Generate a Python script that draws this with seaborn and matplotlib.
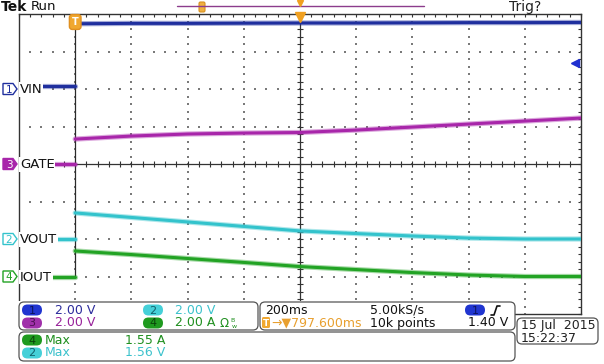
import numpy as np
import pandas as pd
import matplotlib.pyplot as plt
import matplotlib.patches as mpatches
import matplotlib.transforms as mtransforms
import seaborn as sns

sns.set_style("white")
plt.rcParams['font.family'] = ['DejaVu Sans']

W, H = 604, 364

# Timebase: 200 ms/div, trigger one division from the left edge
ms_per_div = 200
t_left, t_right = -200, 1800
t_post = [0, 200, 400, 600, 800, 1000, 1200, 1400, 1600, 1800]

# Channels: per-div scale and ground offset (div)
ch_names = ['VIN', 'VOUT', 'GATE', 'IOUT']
ch_numbers = ['1', '2', '3', '4']
ch_scale = [2.0, 2.0, 2.0, 2.0]
ch_offset = [2.0, -2.0, 0.0, -3.0]
ch_colors = ['#1f2f9e', '#33c3cc', '#a826aa', '#22a324']

# Levels (V, or A for IOUT)
vin_pre = 0.16
vin_post = [3.48, 3.50, 3.50, 3.51, 3.52, 3.52, 3.53, 3.54, 3.54, 3.55]
vout_pre = 0.0
vout_post = [1.39, 1.15, 0.91, 0.67, 0.43, 0.29, 0.16, 0.05, 0.0, 0.0]
gate_pre = 0.02
gate_post = [1.33, 1.49, 1.60, 1.65, 1.68, 1.81, 1.97, 2.13, 2.29, 2.45]
iout_pre = 0.0
iout_post = [1.36, 1.17, 0.96, 0.75, 0.53, 0.37, 0.21, 0.08, 0.0, 0.0]

trig_level = 1.40

pre_vals = [vin_pre, vout_pre, gate_pre, iout_pre]
post_vals = [vin_post, vout_post, gate_post, iout_post]

rows = []
for i, name in enumerate(ch_names):
    for t in [t_left, 0]:
        rows.append((name, 'pre', t, pre_vals[i]))
    for t, v in zip(t_post, post_vals[i]):
        rows.append((name, 'post', t, v))
df = pd.DataFrame(rows, columns=['channel', 'segment', 't', 'value'])
off_map = dict(zip(ch_names, ch_offset))
scale_map = dict(zip(ch_names, ch_scale))
df['div'] = df['channel'].map(off_map) + df['value'] / df['channel'].map(scale_map)

fig = plt.figure(figsize=(W / 100, H / 100), dpi=100)
ax = fig.add_axes([19 / W, 1 - 314 / H, 562 / W, 300 / H])
ax.set_xlim(t_left, t_right)
ax.set_ylim(-4, 4)

grid_col = '#333333'
dot_col = '#7a7a7a'

# graticule: border ticks
ax.set_xticks(np.arange(t_left, t_right + 1, ms_per_div))
ax.set_xticks(np.arange(t_left, t_right + 1, ms_per_div / 5), minor=True)
ax.set_yticks(np.arange(-4, 5, 1))
ax.set_yticks(np.arange(-4, 4.01, 0.2), minor=True)
ax.tick_params(which='both', direction='in', length=2.5, width=0.8, color=grid_col,
               top=True, right=True, labelbottom=False, labelleft=False)
for s in ax.spines.values():
    s.set_color(grid_col)
    s.set_linewidth(1.0)

# dotted divisions
t_center = (t_left + t_right) / 2
xs_fine = np.arange(t_left, t_right + 1, ms_per_div / 5)
ys_fine = np.arange(-4, 4.01, 0.2)
for k in range(1, 10):
    tx = t_left + k * ms_per_div
    if tx == t_center:
        continue
    ax.scatter(np.full(len(ys_fine), tx), ys_fine, s=0.9, marker='s', color=dot_col, linewidths=0, zorder=1)
for ky in range(-3, 4):
    if ky == 0:
        continue
    ax.scatter(xs_fine, np.full(len(xs_fine), ky), s=0.9, marker='s', color=dot_col, linewidths=0, zorder=1)

# center cross with ticks
ax.axhline(0, color=grid_col, lw=0.9, zorder=1)
ax.axvline(t_center, color=grid_col, lw=0.9, zorder=1)
ax.scatter(xs_fine, np.zeros(len(xs_fine)), marker='|', s=14, color=grid_col, linewidths=0.8, zorder=1)
ax.scatter(np.full(len(ys_fine), t_center), ys_fine, marker='_', s=14, color=grid_col, linewidths=0.8, zorder=1)

# step edge at trigger
ax.vlines(0, df['div'].min(), df['div'].max(), color='#2a2a2a', lw=0.9, zorder=2)

# traces: soft outer band for the noise spread, solid core on top
for name, color in zip(ch_names, ch_colors):
    for seg in ['pre', 'post']:
        sub = df[(df['channel'] == name) & (df['segment'] == seg)]
        sns.lineplot(data=sub, x='t', y='div', color=color, lw=3.8, alpha=0.4, ax=ax,
                     estimator=None, sort=False, legend=False, zorder=3)
        sns.lineplot(data=sub, x='t', y='div', color=color, lw=2.2, ax=ax,
                     estimator=None, sort=False, legend=False, zorder=3)
ax.set_xlabel('')
ax.set_ylabel('')

# trigger position marker and level arrow
bx = mtransforms.blended_transform_factory(ax.transData, ax.transAxes)
ax.text(0, 1 - 8 / 300, 'T', transform=bx, ha='center', va='center', color='white',
        fontsize=7, fontweight='bold', zorder=6,
        bbox=dict(boxstyle='round,pad=0.25,rounding_size=0.3', fc='#f0a830', ec='#e09020'))
ax.plot([t_center], [1 - 3 / 300], transform=bx, marker='v', ms=7, color='#f0a020',
        clip_on=False, zorder=6)
by = mtransforms.blended_transform_factory(ax.transAxes, ax.transData)
ax.plot([1 - 6 / 562], [ch_offset[0] + trig_level / ch_scale[0]], transform=by,
        marker='<', ms=6, color='#2030d0', clip_on=False, zorder=6)

# overlay in pixel coordinates for screen furniture
ov = fig.add_axes([0, 0, 1, 1], zorder=5)
ov.set_xlim(0, W)
ov.set_ylim(H, 0)
ov.axis('off')
ov.patch.set_alpha(0)


def chan_y(off):
    d = ax.transData.transform((0, off))[1]
    return H - d


# channel ground labels
for num, name, off, color in zip(ch_numbers, ch_names, ch_offset, ch_colors):
    yc = chan_y(off)
    filled = num == '3'
    poly = mpatches.Polygon([(3, yc - 5.5), (13, yc - 5.5), (17, yc), (13, yc + 5.5), (3, yc + 5.5)],
                            closed=True, fc=color if filled else 'white', ec=color, lw=1.0)
    ov.add_patch(poly)
    ov.text(9, yc + 0.5, num, color='white' if filled else color, fontsize=7.5,
            ha='center', va='center')
    ov.text(20, yc + 0.5, name, color='#111111', fontsize=9.5, ha='left', va='center',
            bbox=dict(boxstyle='square,pad=0.05', fc='white', ec='none'))

# header
ov.text(1, 7, 'Tek', fontsize=10, fontweight='bold', color='#111111', va='center')
ov.text(31, 6.5, 'Run', fontsize=9.5, color='#111111', va='center')
ov.text(509, 7, 'Trig?', fontsize=10, color='#222222', va='center')
ov.plot([177, 424], [6, 6], color='#8c3c8c', lw=1.0)
ov.add_patch(mpatches.FancyBboxPatch((199, 2), 6, 10, boxstyle='round,pad=0,rounding_size=1.5',
                                     fc='#f0b040', ec='#d89020', lw=0.8))
ov.plot([300], [3], marker='v', ms=4.5, color='#f0a020')

# cover below the graticule
ov.add_patch(mpatches.Rectangle((0, 301), 515, 63, fc='white', ec='none'))

panel_ec = '#555555'


def panel(x, y, w, h):
    ov.add_patch(mpatches.FancyBboxPatch((x, y), w, h, boxstyle='round,pad=0,rounding_size=5',
                                         fc='white', ec=panel_ec, lw=0.9))


def pill(x, y, num, fc, tc):
    ov.add_patch(mpatches.FancyBboxPatch((x, y - 5.5), 20, 11, boxstyle='round,pad=0,rounding_size=5.5',
                                         fc=fc, ec='none'))
    ov.text(x + 10, y + 0.5, num, color=tc, fontsize=8, ha='center', va='center')


pill_fc = ['#2035d0', '#45d0d8', '#a030aa', '#1f9a1f']
pill_tc = ['#0c1460', '#10606a', '#4a1050', '#0a440a']
txt_col = ['#2c2c9c', '#3cc2cc', '#98229a', '#1f8f1f']
fs = 9

# channel settings panel
panel(19, 302, 239, 28)
pill(22, 310, '1', pill_fc[0], pill_tc[0])
ov.text(55, 310, '2.00 V', color=txt_col[0], fontsize=fs, va='center')
pill(143, 310, '2', pill_fc[1], pill_tc[1])
ov.text(175, 310, '2.00 V', color=txt_col[1], fontsize=fs, va='center')
pill(22, 323, '3', pill_fc[2], pill_tc[2])
ov.text(55, 323, '2.00 V', color=txt_col[2], fontsize=fs, va='center')
pill(143, 323, '4', pill_fc[3], pill_tc[3])
ov.text(175, 323, '2.00 A', color=txt_col[3], fontsize=fs, va='center')
ov.text(220, 323.5, 'Ω', color=txt_col[3], fontsize=8.5, va='center')
ov.text(230, 320, 'B', color=txt_col[3], fontsize=4.5, va='center')
ov.text(232, 326, 'w', color=txt_col[3], fontsize=4.5, va='center')

# timebase panel
panel(260, 302, 255, 28)
ov.text(265, 310, '200ms', color='#111111', fontsize=fs, va='center')
ov.text(370, 310, '5.00kS/s', color='#111111', fontsize=fs, va='center')
pill(465, 310, '1', pill_fc[0], pill_tc[0])
ov.plot([491, 494, 497, 500], [315, 315, 306, 306], color='#111111', lw=1.2)
ov.add_patch(mpatches.FancyBboxPatch((262, 317), 8, 11, boxstyle='round,pad=0,rounding_size=1.5',
                                     fc='#f0a830', ec='none'))
ov.text(266, 323, 'T', color='white', fontsize=6.5, ha='center', va='center', fontweight='bold')
ov.text(271, 323, '→▼797.600ms', color='#e8a030', fontsize=fs, va='center')
ov.text(370, 323, '10k points', color='#111111', fontsize=fs, va='center')
ov.text(508, 323, '1.40 V', color='#111111', fontsize=fs, va='center', ha='right')

# measurement panel
panel(19, 332, 496, 29)
pill(22, 340, '4', pill_fc[3], pill_tc[3])
ov.text(45, 340, 'Max', color=txt_col[3], fontsize=fs, va='center')
ov.text(125, 340, '1.55 A', color=txt_col[3], fontsize=fs, va='center')
pill(22, 353, '2', pill_fc[1], pill_tc[1])
ov.text(45, 353, 'Max', color=txt_col[1], fontsize=fs, va='center')
ov.text(125, 353, '1.56 V', color=txt_col[1], fontsize=fs, va='center')

# date panel
panel(517, 318, 81, 26)
ov.text(521, 326, '15 Jul  2015', color='#222222', fontsize=fs, va='center')
ov.text(521, 338, '15:22:37', color='#222222', fontsize=fs, va='center')

fig.savefig('out.png', dpi=100)
